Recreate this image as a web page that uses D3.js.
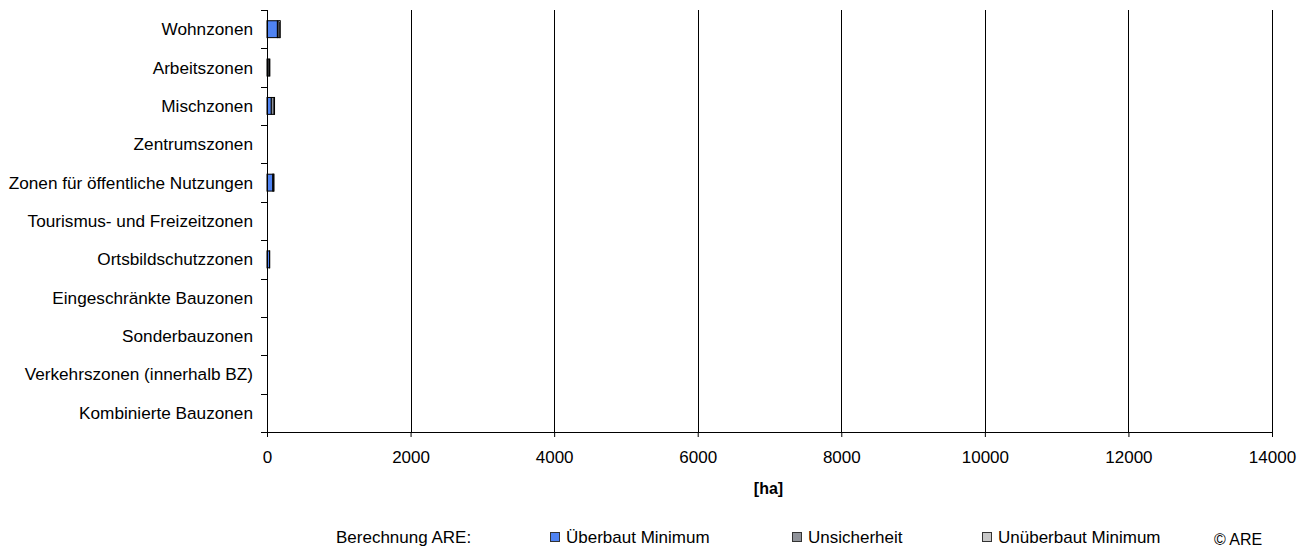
<!DOCTYPE html>
<html>
<head>
<meta charset="utf-8">
<script src="https://cdn.jsdelivr.net/npm/d3@7"></script>
<style>
  body { margin: 0; background: #fff; }
  svg { display: block; font-family: "Liberation Sans", Arial, sans-serif; }
</style>
</head>
<body>
<svg id="chart" width="1314" height="549"></svg>
<script>
const categories = [
  "Wohnzonen",
  "Arbeitszonen",
  "Mischzonen",
  "Zentrumszonen",
  "Zonen für öffentliche Nutzungen",
  "Tourismus- und Freizeitzonen",
  "Ortsbildschutzzonen",
  "Eingeschränkte Bauzonen",
  "Sonderbauzonen",
  "Verkehrszonen (innerhalb BZ)",
  "Kombinierte Bauzonen"
];
const ueberbautMinimum  = [145, 10, 60, 0, 80, 0, 35, 0, 0, 0, 0];
const unsicherheit      = [25, 20, 40, 0, 12, 0, 3, 0, 0, 0, 0];
const unueberbautMinimum = [15, 10, 5, 0, 5, 0, 0, 0, 0, 0, 0];
const seriesNames = ["Überbaut Minimum", "Unsicherheit", "Unüberbaut Minimum"];
const seriesKeys = ["ueb", "uns", "unueb"];
const xTicks = [0, 2000, 4000, 6000, 8000, 10000, 12000, 14000];
const colors = ["#4f83f2", "#8f9299", "#c8c8c8"];

(function () {
const rows = categories.map((c, i) => ({
  cat: c, ueb: ueberbautMinimum[i], uns: unsicherheit[i], unueb: unueberbautMinimum[i]
}));

const svg = d3.select("#chart");
const pLeft = 267, pRight = 1272, pTop = 10, pBottom = 432;

const x = d3.scaleLinear().domain([0, 14000]).range([pLeft, pRight]);
const y = d3.scaleBand().domain(categories).range([pTop, pBottom]).paddingInner(0).paddingOuter(0);
const step = y.step();
const barH = step * 0.44;

// gridlines
svg.append("g").selectAll("line").data(xTicks.filter(d => d > 0)).join("line")
  .attr("x1", d => Math.round(x(d)) + 0.5).attr("x2", d => Math.round(x(d)) + 0.5)
  .attr("y1", pTop).attr("y2", pBottom)
  .attr("stroke", "#000").attr("stroke-width", 1);

// stacked bars
const stack = d3.stack().keys(seriesKeys)(rows);
const gBars = svg.append("g");
stack.forEach((layer, li) => {
  gBars.append("g").selectAll("rect").data(layer.filter(d => d[1] - d[0] > 0)).join("rect")
    .attr("x", d => x(d[0]))
    .attr("width", d => Math.max(0, x(d[1]) - x(d[0])))
    .attr("y", d => y(d.data.cat) + (step - barH) / 2)
    .attr("height", barH)
    .attr("fill", colors[li])
    .attr("stroke", "#000").attr("stroke-width", 1);
});

// x axis
const xAxis = d3.axisBottom(x).tickValues(xTicks).tickSize(5).tickSizeOuter(0).tickPadding(14)
  .tickFormat(d3.format("d"));
const gx = svg.append("g").attr("transform", `translate(0,${pBottom})`).call(xAxis);
gx.select(".domain").attr("d", `M${pLeft - 5},0.5H${pRight}`).attr("stroke", "#000");
gx.selectAll(".tick line").attr("stroke", "#000");
gx.selectAll("text").attr("font-size", 17).attr("fill", "#000")
  .attr("font-family", "'Liberation Sans', Arial, sans-serif");

// y axis
const gy = svg.append("g").attr("transform", `translate(${pLeft},0)`);
gy.append("line").attr("x1", 0.5).attr("x2", 0.5).attr("y1", pTop).attr("y2", pBottom + 5)
  .attr("stroke", "#000");
const bounds = d3.range(categories.length + 1).map(i => pTop + i * step);
gy.selectAll("line.t").data(bounds).join("line").attr("class", "t")
  .attr("x1", -6).attr("x2", 0).attr("y1", d => Math.round(d) + 0.5).attr("y2", d => Math.round(d) + 0.5)
  .attr("stroke", "#000");
gy.selectAll("text").data(categories).join("text")
  .attr("x", -14)
  .attr("y", d => y(d) + step / 2)
  .attr("dy", "0.35em")
  .attr("text-anchor", "end")
  .attr("font-size", 17.2)
  .attr("fill", "#000")
  .text(d => d);

// axis title
svg.append("text").attr("x", (pLeft + pRight) / 2 - 1).attr("y", 494)
  .attr("text-anchor", "middle").attr("font-size", 16).attr("font-weight", "bold")
  .text("[ha]");

// legend
const ly = 537;
svg.append("text").attr("x", 336).attr("y", ly).attr("dy", "0.35em")
  .attr("font-size", 17).text("Berechnung ARE:");
const legX = [550, 792, 982];
seriesNames.forEach((n, i) => {
  svg.append("rect").attr("x", legX[i] + 0.5).attr("y", ly - 4.5).attr("width", 9).attr("height", 9)
    .attr("fill", colors[i]).attr("stroke", "#333").attr("stroke-width", 1);
  svg.append("text").attr("x", legX[i] + 16).attr("y", ly).attr("dy", "0.35em")
    .attr("font-size", 17).text(n);
});
svg.append("text").attr("x", 1214).attr("y", ly + 2).attr("dy", "0.35em")
  .attr("font-size", 16).text("© ARE");
})();
</script>
</body>
</html>
